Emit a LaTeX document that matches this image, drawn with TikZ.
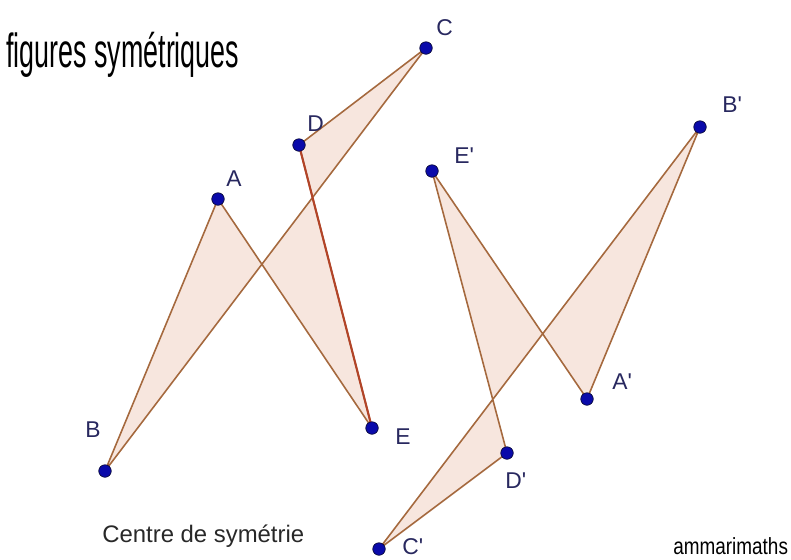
\documentclass[tikz,border=0pt]{standalone}
\usepackage{fontspec}
\usepackage{graphicx}
\setmainfont{Liberation Sans}
\definecolor{edgec}{RGB}{165,105,62}
\definecolor{edgered}{RGB}{178,68,40}
\definecolor{fillc}{RGB}{247,230,222}
\definecolor{ptfill}{RGB}{10,10,170}
\definecolor{ptdraw}{RGB}{10,10,60}
\definecolor{labc}{RGB}{40,40,95}
\definecolor{txtc}{RGB}{40,40,40}
\newcommand{\pr}{\textquotesingle}
\begin{document}
\begin{tikzpicture}[x=0.02cm,y=-0.02cm,
  pt/.style={circle,fill=ptfill,draw=ptdraw,line width=0.4pt,minimum size=0.25cm,inner sep=0pt},
  lab/.style={anchor=base west,inner sep=0pt,text=labc,font=\fontsize{13}{15}\selectfont},
  poly/.style={fill=fillc,draw=edgec,line width=0.9pt,line join=round},
  txt/.style={anchor=base west,inner sep=0pt}]
\useasboundingbox (0,0) rectangle (791,559);
% vertices
\coordinate (A) at (218,199);
\coordinate (B) at (105,471);
\coordinate (C) at (426,48);
\coordinate (D) at (299,145);
\coordinate (E) at (372,428);
\coordinate (A2) at (587,399);
\coordinate (B2) at (700,127);
\coordinate (C2) at (379,549);
\coordinate (D2) at (507,453);
\coordinate (E2) at (432,171);
% polygons
\path[poly] (A) -- (B) -- (C) -- (D) -- (E) -- cycle;
\draw[edgered,line width=1.2pt] (D) -- (E);
\path[poly] (A2) -- (B2) -- (C2) -- (D2) -- (E2) -- cycle;
% points
\foreach \p in {A,B,C,D,E,A2,B2,C2,D2,E2} {\node[pt] (n\p) at (\p) {};}
% labels
\node[lab] (lA) at (226,186) {A};
\node[lab] (lB) at (85,437) {B};
\node[lab] (lC) at (436,35) {C};
\node[lab] (lD) at (307,131) {D};
\node[lab] (lE) at (395,444) {E};
\node[lab] (lA2) at (612,389) {A\pr};
\node[lab] (lB2) at (722,112) {B\pr};
\node[lab] (lC2) at (402,554) {C\pr};
\node[lab] (lD2) at (505,488) {D\pr};
\node[lab] (lE2) at (454,163) {E\pr};
% texts
\node[txt] (title) at (6,67) {\fontsize{27.3}{30}\selectfont\scalebox{0.56}[1]{figures symétriques}};
\node[txt,text=txtc] (centre) at (102,542) {\fontsize{13.6}{16}\selectfont Centre de symétrie};
\node[txt] (sig) at (673,554) {\fontsize{13.3}{15}\selectfont\scalebox{0.81}[1]{ammarimaths}};
\end{tikzpicture}
\end{document}
